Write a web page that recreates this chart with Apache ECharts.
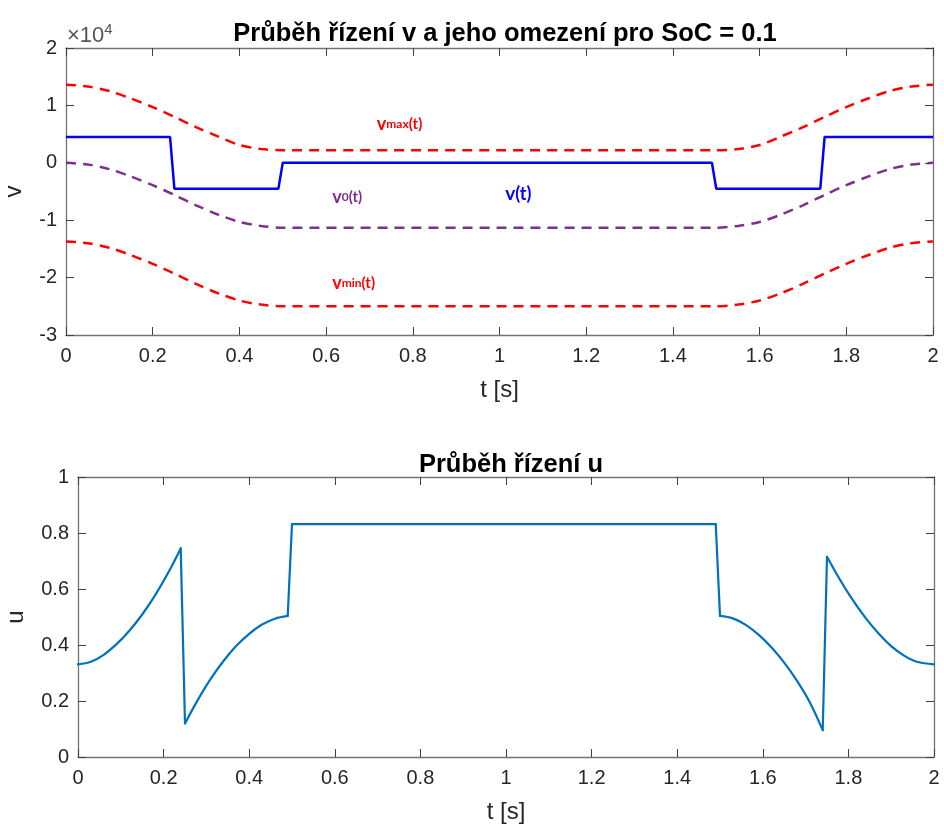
<!DOCTYPE html>
<html>
<head>
<meta charset="utf-8">
<script src="https://cdn.jsdelivr.net/npm/echarts@6/dist/echarts.min.js"></script>
<style>
  html, body { margin: 0; padding: 0; background: #fff; }
  #chart { width: 944px; height: 828px; }
</style>
</head>
<body>
<div id="chart"></div>
<script>
// Control v (in units of 1e4) and its bounds over time t [s]
const tBounds = [0, 0.05, 0.1, 0.15, 0.2, 0.25, 0.3, 0.35, 0.4, 0.45, 0.5,
                 0.75, 1.0, 1.25,
                 1.5, 1.55, 1.6, 1.65, 1.7, 1.75, 1.8, 1.85, 1.9, 1.95, 2];
const v0 = [0, -0.03, -0.11, -0.24, -0.39, -0.56, -0.74, -0.90, -1.03, -1.10, -1.13,
            -1.13, -1.13, -1.13,
            -1.13, -1.10, -1.03, -0.90, -0.74, -0.56, -0.39, -0.24, -0.11, -0.03, 0];
const vMax = [1.36, 1.33, 1.25, 1.12, 0.97, 0.80, 0.62, 0.46, 0.31, 0.24, 0.22,
              0.22, 0.22, 0.22,
              0.22, 0.24, 0.31, 0.46, 0.62, 0.80, 0.97, 1.12, 1.25, 1.33, 1.36];
const vMin = [-1.37, -1.40, -1.48, -1.61, -1.76, -1.93, -2.11, -2.27, -2.40, -2.47, -2.50,
              -2.50, -2.50, -2.50,
              -2.50, -2.47, -2.40, -2.27, -2.11, -1.93, -1.76, -1.61, -1.48, -1.40, -1.37];

const tV = [0, 0.24, 0.25, 0.49, 0.50, 1.49, 1.50, 1.74, 1.75, 2];
const v = [0.45, 0.45, -0.45, -0.45, 0, 0, -0.45, -0.45, 0.45, 0.45];

// Control u over time t [s]
const tU = [0, 0.03, 0.06, 0.09, 0.12, 0.15, 0.18, 0.21, 0.24,
            0.25, 0.28, 0.31, 0.34, 0.37, 0.40, 0.43, 0.46, 0.49,
            0.50, 1.49,
            1.50, 1.53, 1.56, 1.59, 1.62, 1.65, 1.68, 1.71, 1.74,
            1.75, 1.78, 1.81, 1.84, 1.87, 1.90, 1.93, 1.96, 2.0];
const u = [0.331, 0.340, 0.365, 0.403, 0.451, 0.509, 0.577, 0.656, 0.745,
           0.120, 0.204, 0.279, 0.343, 0.397, 0.440, 0.473, 0.494, 0.504,
           0.832, 0.832,
           0.504, 0.495, 0.472, 0.437, 0.392, 0.337, 0.272, 0.195, 0.096,
           0.715, 0.634, 0.561, 0.497, 0.442, 0.396, 0.362, 0.340, 0.331];

const FONT = '"Liberation Sans", Arial, Helvetica, sans-serif';
const LABEL_FONT = 'Lato, "Open Sans", sans-serif';
const AXIS_COLOR = '#737373';
const TEXT_COLOR = '#262626';
const U_COLOR = '#0072bd';

const pairs = (xs, ys) => xs.map((x, i) => [x, ys[i]]);

const tickStyle = { show: true, inside: true, length: 8, lineStyle: { color: '#404040', width: 1 } };
const lineStyleAxis = { show: true, onZero: false, lineStyle: { color: AXIS_COLOR, width: 1.3 } };

function xAxisMain(gridIndex) {
  return {
    type: 'value', gridIndex, min: 0, max: 2, interval: 0.2,
    name: 't [s]', nameLocation: 'middle', nameGap: 43,
    nameTextStyle: { fontFamily: FONT, fontSize: 24, color: TEXT_COLOR },
    axisLine: lineStyleAxis, axisTick: tickStyle,
    axisLabel: { fontFamily: FONT, fontSize: 20, color: TEXT_COLOR, margin: 11 },
    splitLine: { show: false }
  };
}
function xAxisMirror(gridIndex) {
  return {
    type: 'value', gridIndex, min: 0, max: 2, interval: 0.2, position: 'top',
    axisLine: lineStyleAxis, axisTick: tickStyle,
    axisLabel: { show: false }, splitLine: { show: false }
  };
}
function yAxisMain(gridIndex, min, max, interval, name, gap) {
  return {
    type: 'value', gridIndex, min, max, interval,
    name, nameLocation: 'middle', nameGap: gap,
    nameTextStyle: { fontFamily: FONT, fontSize: 24, color: TEXT_COLOR },
    axisLine: lineStyleAxis, axisTick: tickStyle,
    axisLabel: { fontFamily: FONT, fontSize: 20, color: TEXT_COLOR, margin: 9 },
    splitLine: { show: false }
  };
}
function yAxisMirror(gridIndex, min, max, interval) {
  return {
    type: 'value', gridIndex, min, max, interval, position: 'right',
    axisLine: lineStyleAxis, axisTick: tickStyle,
    axisLabel: { show: false }, splitLine: { show: false }
  };
}

// The u trace is smooth between switching instants and jumps across them;
// each smooth piece is its own series, joined by straight jump segments.
function uSeries() {
  const out = [];
  let start = 0;
  const pieces = [];
  for (let i = 0; i < tU.length - 1; i++) {
    if (tU[i + 1] - tU[i] < 0.011) {
      pieces.push([start, i]);
      start = i + 1;
    }
  }
  pieces.push([start, tU.length - 1]);
  const base = { type: 'line', xAxisIndex: 2, yAxisIndex: 2, showSymbol: false,
                 lineStyle: { color: U_COLOR, width: 2.2, join: 'round', cap: 'round' } };
  pieces.forEach(([a, b], k) => {
    out.push(Object.assign({}, base, {
      name: 'u', smooth: 0.35,
      data: pairs(tU.slice(a, b + 1), u.slice(a, b + 1))
    }));
    if (k < pieces.length - 1) {
      out.push(Object.assign({}, base, {
        name: 'u',
        data: [[tU[b], u[b]], [tU[b + 1], u[b + 1]]]
      }));
    }
  });
  return out;
}

const chart = echarts.init(document.getElementById('chart'), null, { renderer: 'canvas' });

const dashed = (color) => ({ color, width: 2.5, type: [10, 7] });

chart.setOption({
  backgroundColor: '#ffffff',
  animation: false,
  title: [
    {
      text: 'Průběh řízení v a jeho omezení pro SoC = 0.1',
      left: 500, top: 16, textAlign: 'center',
      textStyle: { fontFamily: FONT, fontSize: 25.5, fontWeight: 'bold', color: '#000' }
    },
    {
      text: 'Průběh řízení u',
      left: 506, top: 447, textAlign: 'center',
      textStyle: { fontFamily: FONT, fontSize: 25.5, fontWeight: 'bold', color: '#000' }
    }
  ],
  grid: [
    { left: 66, top: 48, width: 867, height: 287, outerBoundsMode: 'none', containLabel: false },
    { left: 78, top: 477, width: 856, height: 280, outerBoundsMode: 'none', containLabel: false }
  ],
  xAxis: [xAxisMain(0), xAxisMirror(0), xAxisMain(1), xAxisMirror(1)],
  yAxis: [
    yAxisMain(0, -3, 2, 1, 'v', 40), yAxisMirror(0, -3, 2, 1),
    yAxisMain(1, 0, 1, 0.2, 'u', 50), yAxisMirror(1, 0, 1, 0.2)
  ],
  series: [
    {
      name: 'vmax', type: 'line', xAxisIndex: 0, yAxisIndex: 0,
      data: pairs(tBounds, vMax), showSymbol: false, smooth: 0.3,
      lineStyle: dashed('#ff0000')
    },
    {
      name: 'vmin', type: 'line', xAxisIndex: 0, yAxisIndex: 0,
      data: pairs(tBounds, vMin), showSymbol: false, smooth: 0.3,
      lineStyle: dashed('#ff0000')
    },
    {
      name: 'v0', type: 'line', xAxisIndex: 0, yAxisIndex: 0,
      data: pairs(tBounds, v0), showSymbol: false, smooth: 0.3,
      lineStyle: dashed('#7e2f8e')
    },
    {
      name: 'v', type: 'line', xAxisIndex: 0, yAxisIndex: 0,
      data: pairs(tV, v), showSymbol: false,
      lineStyle: { color: '#0000ff', width: 2.5 }
    }
  ].concat(uSeries())
});

// Curve annotations placed in data coordinates of the upper plot
function labelAt(t, val, rich, text) {
  const p = chart.convertToPixel({ gridIndex: 0 }, [t, val]);
  return {
    type: 'text', x: p[0], y: p[1],
    style: { text, rich, align: 'left', verticalAlign: 'middle' }
  };
}
const bold = (c, s) => ({ fontFamily: LABEL_FONT, fontWeight: 'bold', fontSize: s, fill: c });
const redRich = { a: bold('#ff0000', 18), b: bold('#ff0000', 12), c: bold('#ff0000', 15) };
const purpleRich = { a: bold('#7e2f8e', 18), b: bold('#7e2f8e', 12), c: bold('#7e2f8e', 15) };
const blueRich = { a: bold('#0000ff', 19), c: bold('#0000ff', 18) };

chart.setOption({
  graphic: [
    labelAt(0.717, 0.67, redRich, '{a|v}{b|max}{c|(t)}'),
    labelAt(0.614, -0.60, purpleRich, '{a|v}{b|0}{c|(t)}'),
    labelAt(1.013, -0.55, blueRich, '{a|v}{c|(t)}'),
    labelAt(0.614, -2.10, redRich, '{a|v}{b|min}{c|(t)}'),
    {
      type: 'text', x: 67, y: 36,
      style: {
        text: '{m|×10}{e|4}', align: 'left', verticalAlign: 'middle',
        rich: {
          m: { fontFamily: FONT, fontSize: 22, fill: '#555' },
          e: { fontFamily: FONT, fontSize: 15, fill: '#555', verticalAlign: 'top', padding: [0, 0, 12, 0] }
        }
      }
    }
  ]
});
</script>
</body>
</html>
